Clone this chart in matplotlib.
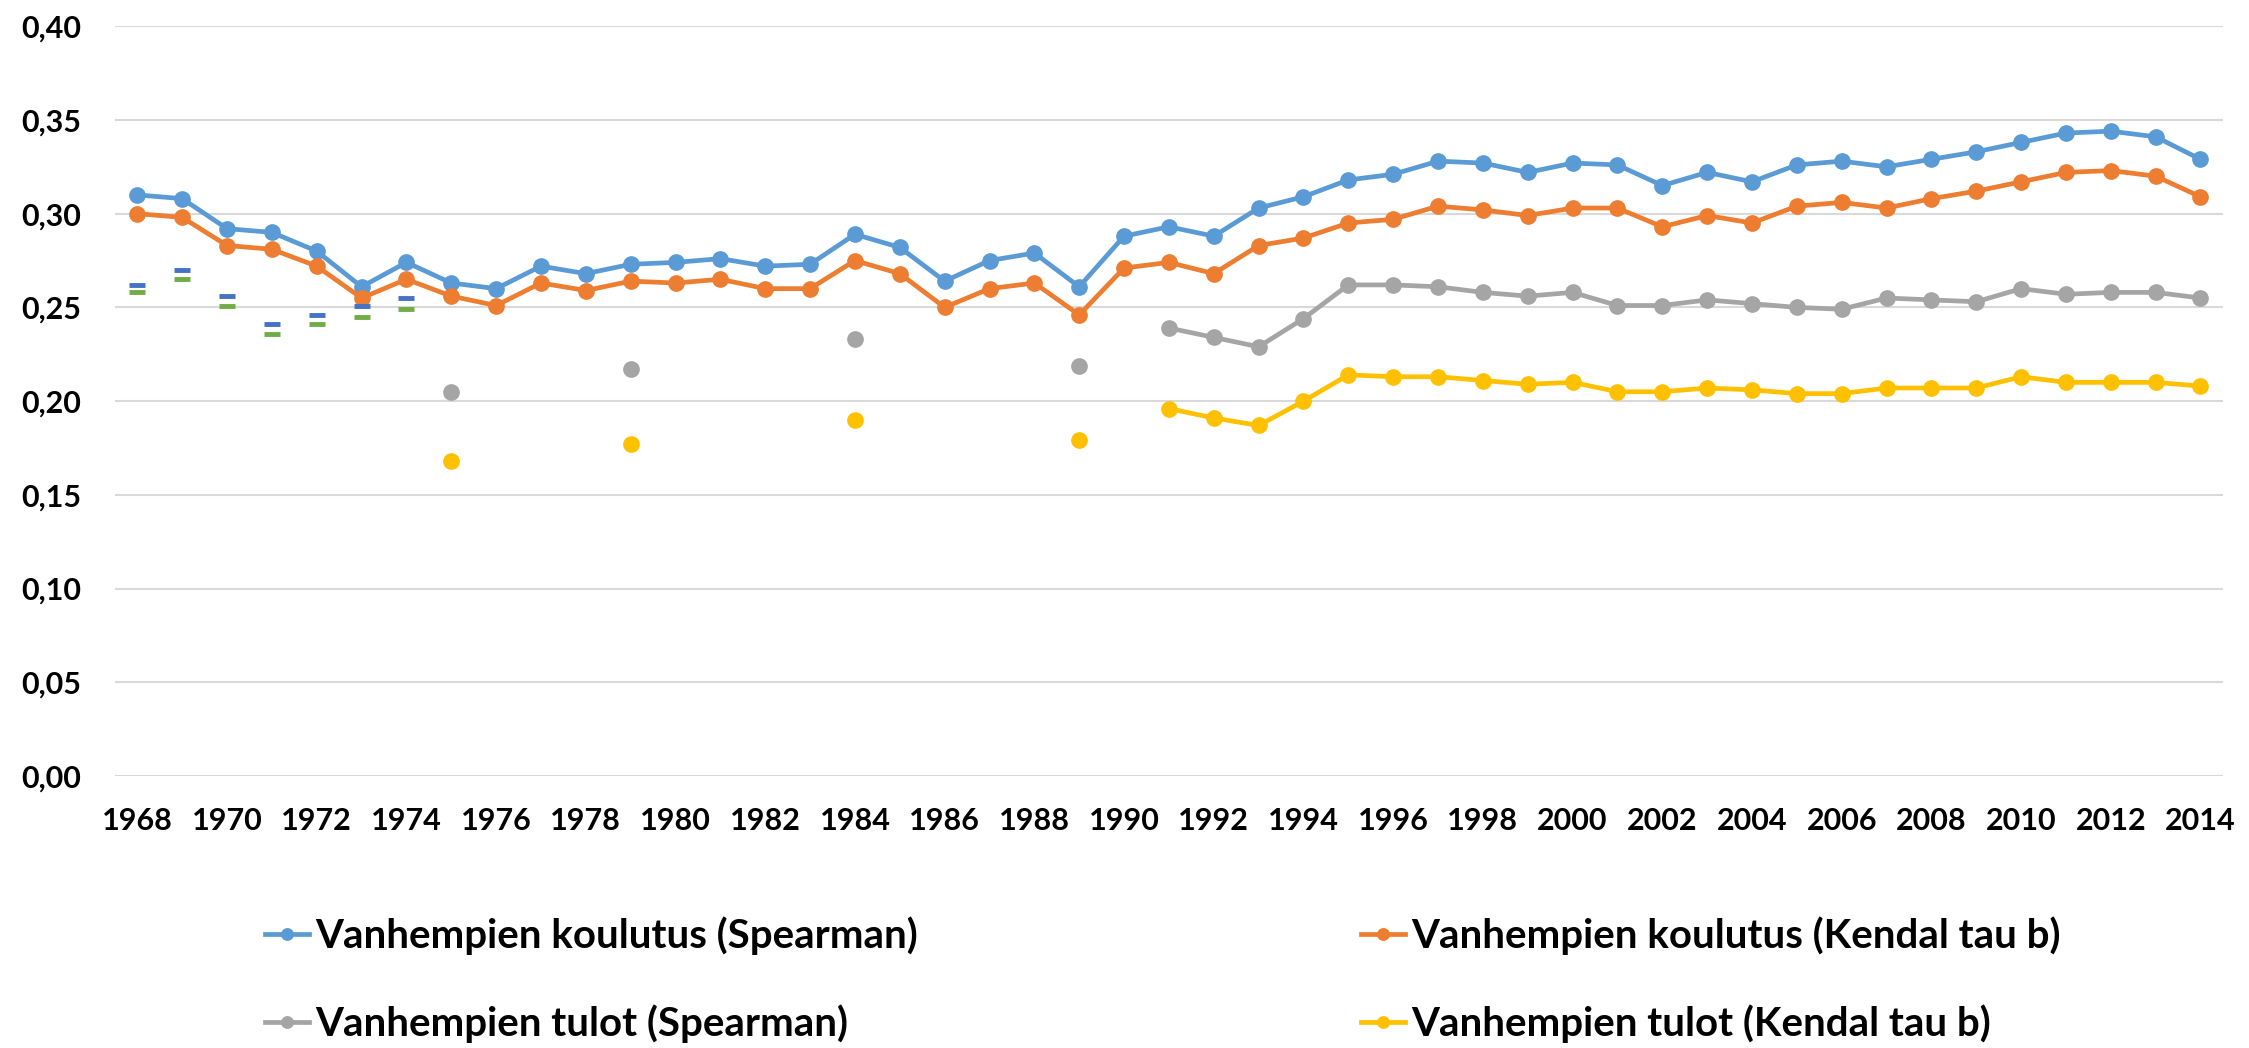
import numpy as np
import matplotlib
matplotlib.use("Agg")
import matplotlib.pyplot as plt

plt.rcParams['font.family'] = ['Lato', 'DejaVu Sans']
plt.rcParams['font.weight'] = 'bold'

years = list(range(1968, 2015))
nan = np.nan

koulutus_spearman = [0.310, 0.308, 0.292, 0.290, 0.280, 0.261, 0.274, 0.263, 0.260, 0.272,
                     0.268, 0.273, 0.274, 0.276, 0.272, 0.273, 0.289, 0.282, 0.264, 0.275,
                     0.279, 0.261, 0.288, 0.293, 0.288, 0.303, 0.309, 0.318, 0.321, 0.328,
                     0.327, 0.322, 0.327, 0.326, 0.315, 0.322, 0.317, 0.326, 0.328, 0.325,
                     0.329, 0.333, 0.338, 0.343, 0.344, 0.341, 0.329]
koulutus_kendal = [0.300, 0.298, 0.283, 0.281, 0.272, 0.255, 0.265, 0.256, 0.251, 0.263,
                   0.259, 0.264, 0.263, 0.265, 0.260, 0.260, 0.275, 0.268, 0.250, 0.260,
                   0.263, 0.246, 0.271, 0.274, 0.268, 0.283, 0.287, 0.295, 0.297, 0.304,
                   0.302, 0.299, 0.303, 0.303, 0.293, 0.299, 0.295, 0.304, 0.306, 0.303,
                   0.308, 0.312, 0.317, 0.322, 0.323, 0.320, 0.309]
tulot_spearman = [nan, nan, nan, nan, nan, nan, nan, 0.205, nan, nan,
                  nan, 0.217, nan, nan, nan, nan, 0.233, nan, nan, nan,
                  nan, 0.219, nan, 0.239, 0.234, 0.229, 0.244, 0.262, 0.262, 0.261,
                  0.258, 0.256, 0.258, 0.251, 0.251, 0.254, 0.252, 0.250, 0.249, 0.255,
                  0.254, 0.253, 0.260, 0.257, 0.258, 0.258, 0.255]
tulot_kendal = [nan, nan, nan, nan, nan, nan, nan, 0.168, nan, nan,
                nan, 0.177, nan, nan, nan, nan, 0.190, nan, nan, nan,
                nan, 0.179, nan, 0.196, 0.191, 0.187, 0.200, 0.214, 0.213, 0.213,
                0.211, 0.209, 0.210, 0.205, 0.205, 0.207, 0.206, 0.204, 0.204, 0.207,
                0.207, 0.207, 0.213, 0.210, 0.210, 0.210, 0.208]

# short extra series 1968-1974 (no legend entry)
dash_years = [1968, 1969, 1970, 1971, 1972, 1973, 1974]
dash_blue = [0.262, 0.270, 0.256, 0.241, 0.246, 0.251, 0.255]
dash_green = [0.258, 0.265, 0.251, 0.236, 0.241, 0.245, 0.249]

fig = plt.figure(figsize=(22.49, 10.48), dpi=100)
ax = fig.add_axes([0.0511, 0.2595, 0.9373, 0.7155])

lw = 3.4
ms = 11
h1, = ax.plot(years, koulutus_spearman, color='#5B9BD5', lw=lw, marker='o', ms=ms,
              label='Vanhempien koulutus (Spearman)')
h2, = ax.plot(years, koulutus_kendal, color='#ED7D31', lw=lw, marker='o', ms=ms,
              label='Vanhempien koulutus (Kendal tau b)')
h3, = ax.plot(years, tulot_spearman, color='#A5A5A5', lw=lw, marker='o', ms=ms,
              label='Vanhempien tulot (Spearman)')
h4, = ax.plot(years, tulot_kendal, color='#FFC000', lw=lw, marker='o', ms=ms,
              label='Vanhempien tulot (Kendal tau b)')
ax.plot(dash_years, dash_blue, ls='none', marker='_', ms=11, mew=3.5, color='#4472C4')
ax.plot(dash_years, dash_green, ls='none', marker='_', ms=11, mew=3.5, color='#70AD47')

ax.set_xlim(1967.5, 2014.5)
ax.set_ylim(0, 0.40)
ax.set_xticks(range(1968, 2015, 2))
ax.set_yticks(np.arange(0, 0.401, 0.05))
ax.set_yticklabels([f"{v:.2f}".replace('.', ',') for v in np.arange(0, 0.401, 0.05)])
ax.tick_params(axis='both', length=0, labelsize=22)
ax.tick_params(axis='y', pad=24)
ax.tick_params(axis='x', pad=22)
for s in ax.spines.values():
    s.set_visible(False)
ax.grid(axis='y', color='#D9D9D9', lw=1.5)
ax.set_axisbelow(True)

# column-wise fill -> order so rows read koulutus / tulot
fig.legend([h1, h3, h2, h4], [h.get_label() for h in (h1, h3, h2, h4)],
           loc='lower left', bbox_to_anchor=(0.1015, -0.030), ncol=2, frameon=False,
           fontsize=29, handlelength=1.1, handletextpad=0.15, columnspacing=11,
           labelspacing=1.22, markerscale=0.75)

fig.savefig('out.png', dpi=100)
